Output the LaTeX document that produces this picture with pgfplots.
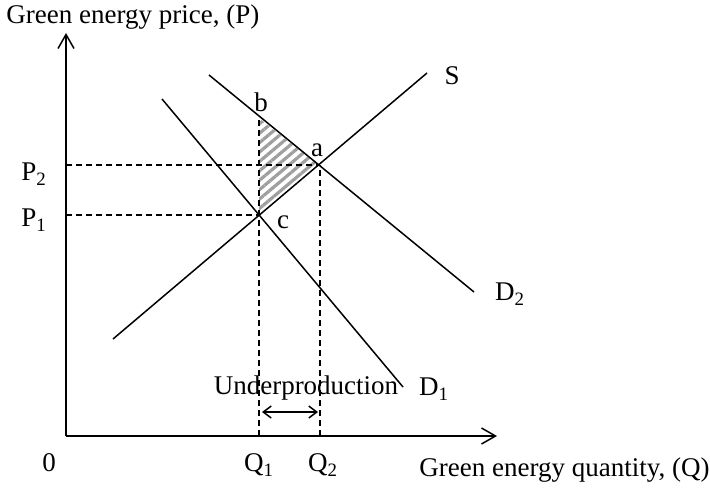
\documentclass[border=0pt]{standalone}
\usepackage{pgfplots}
\pgfplotsset{compat=1.18}
\usepackage{fontspec}
\setmainfont{Liberation Serif}
\usetikzlibrary{patterns,patterns.meta,arrows.meta}
\tikzset{lbl/.style={font=\fontsize{13.5}{15}\selectfont, inner sep=0pt}}
\begin{document}
\fontsize{13.5}{15}\selectfont
\begin{tikzpicture}
\begin{axis}[
  width=355pt, height=246pt, scale only axis,
  xmin=0, xmax=710, ymin=0, ymax=492, y dir=reverse,
  axis lines=none, clip=false,
  cycle list={{black,solid,mark=none}},
  every axis plot/.append style={line width=0.75pt, black, mark=none},
]
\path (axis cs:0,0) rectangle (axis cs:710,492);
% hatched area
\addplot[draw=none, pattern={Lines[angle=40,distance=3.6pt,line width=1.6pt]}, pattern color=gray!75] coordinates {(259,118) (318,165) (259,213)} -- cycle;
% axes
\addplot[black, -{Straight Barb[length=7pt,width=8pt]}] coordinates {(66,436) (66,33)};
\addplot[black, -{Straight Barb[length=7pt,width=8pt]}] coordinates {(66,436) (497,436)};
% curves
\addplot[black] coordinates {(113,339) (427,73)};
\addplot[black] coordinates {(162,99) (403,387)};
\addplot[black] coordinates {(209,75) (474,292)};
% dashed guides
\addplot[black, dash pattern=on 3pt off 2pt] coordinates {(259,436) (259,116)};
\addplot[black, dash pattern=on 3pt off 2pt] coordinates {(320,436) (320,165)};
\addplot[black, dash pattern=on 3pt off 2pt] coordinates {(66,165) (320,165)};
\addplot[black, dash pattern=on 3pt off 2pt] coordinates {(66,215) (259,215)};
% underproduction arrow
\addplot[black, {Straight Barb[length=4pt,width=6pt]}-{Straight Barb[length=4pt,width=6pt]}] coordinates {(262,412) (318,412)};
% labels
\node[lbl, anchor=west] at (axis cs:6,17) {Green energy price, (P)};
\node[lbl, anchor=east] at (axis cs:710,470) {Green energy quantity, (Q)};
\node[lbl] at (axis cs:49,463) {0};
\node[lbl] at (axis cs:259,465) {Q\textsubscript{1}};
\node[lbl] at (axis cs:323,465) {Q\textsubscript{2}};
\node[lbl] at (axis cs:34,174) {P\textsubscript{2}};
\node[lbl] at (axis cs:34,220) {P\textsubscript{1}};
\node[lbl] at (axis cs:261,102) {b};
\node[lbl] at (axis cs:317,150) {a};
\node[lbl] at (axis cs:283,222) {c};
\node[lbl] at (axis cs:452,76) {S};
\node[lbl] at (axis cs:510,294) {D\textsubscript{2}};
\node[lbl] at (axis cs:434,389) {D\textsubscript{1}};
\node[lbl] at (axis cs:306,388) {Underproduction};
\end{axis}
\end{tikzpicture}
\end{document}
